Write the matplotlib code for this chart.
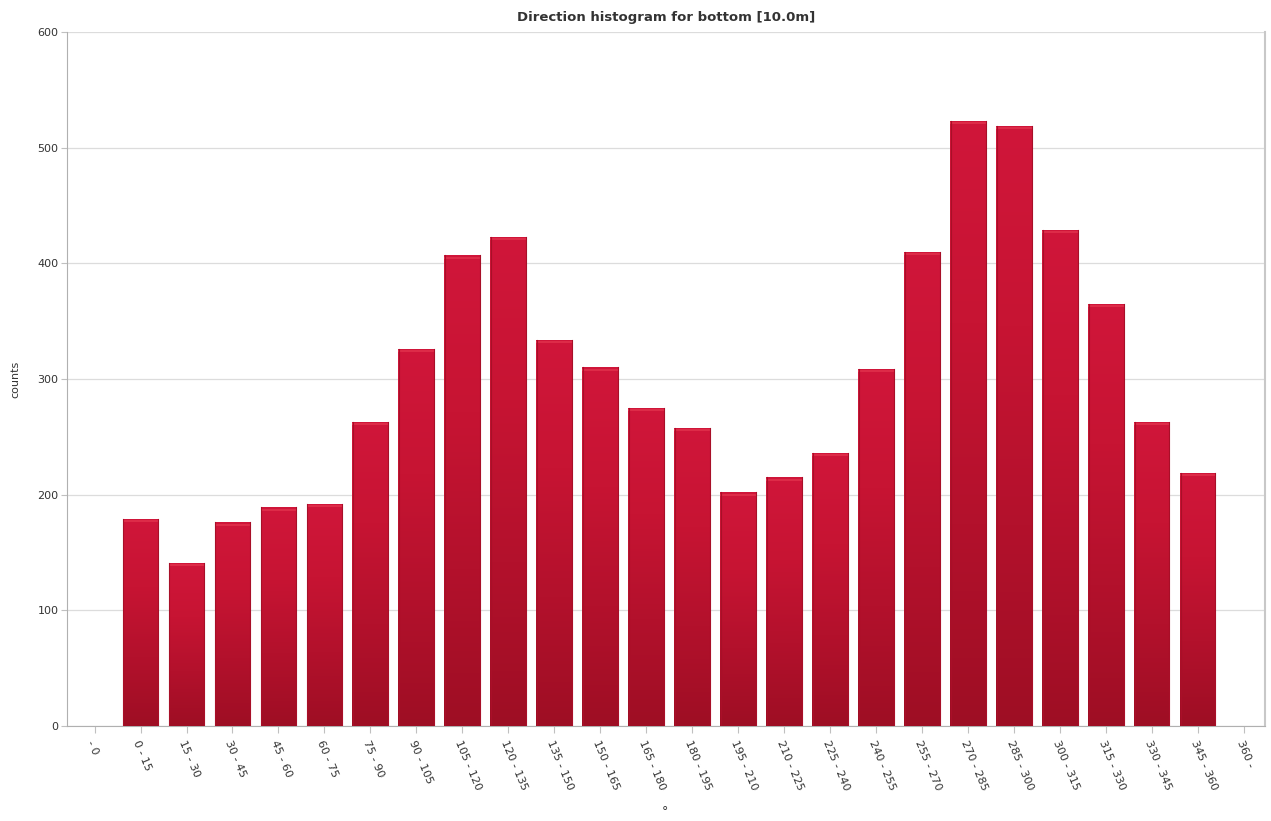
import numpy as np
import matplotlib
matplotlib.use("Agg")
import matplotlib.pyplot as plt
from matplotlib.colors import LinearSegmentedColormap

categories = ["- 0", "0 - 15", "15 - 30", "30 - 45", "45 - 60", "60 - 75", "75 - 90",
              "90 - 105", "105 - 120", "120 - 135", "135 - 150", "150 - 165",
              "165 - 180", "180 - 195", "195 - 210", "210 - 225", "225 - 240",
              "240 - 255", "255 - 270", "270 - 285", "285 - 300", "300 - 315",
              "315 - 330", "330 - 345", "345 - 360", "360 -"]
counts = [0, 179, 141, 176, 189, 192, 263, 326, 407, 423, 334, 310, 275, 258,
          202, 215, 236, 309, 410, 523, 519, 429, 365, 263, 219, 0]
yticks = [0, 100, 200, 300, 400, 500, 600]

fig = plt.figure(figsize=(12.71, 8.21), dpi=100)
ax = fig.add_axes([0.0527, 0.1157, 0.9423, 0.8453])

x = np.arange(len(categories))
bars = ax.bar(x, counts, width=0.78, color="#b81230", edgecolor="none", zorder=2)

# vertical gradient within each bar
cmap = LinearSegmentedColormap.from_list("g", ["#9e0e24", "#b3112c", "#c71433", "#d0163a"])
grad = np.linspace(0, 1, 256).reshape(-1, 1)
for b, v in zip(bars, counts):
    if v <= 0:
        continue
    x0 = b.get_x()
    w = b.get_width()
    im = ax.imshow(grad, extent=(x0, x0 + w, 0, v), origin="lower", aspect="auto",
                   cmap=cmap, zorder=3)
    im.set_clip_path(b)
    ax.plot([x0, x0 + w], [v - 2, v - 2], color="#e0304c", lw=1.2, zorder=4,
            solid_capstyle="butt")
    ax.plot([x0 + 0.01, x0 + 0.01], [0, v], color="#a80f28", lw=0.8, zorder=4)
    ax.plot([x0 + w - 0.01, x0 + w - 0.01], [0, v], color="#a80f28", lw=0.8, zorder=4)

ax.set_xlim(-0.6, 25.45)
ax.set_ylim(0, 600)
ax.set_yticks(yticks)
ax.set_yticklabels([str(t) for t in yticks], fontsize=8, color="#333333")
ax.set_xticks(x)
ax.set_xticklabels(categories, rotation=-67, ha="left", va="top",
                   rotation_mode="anchor", fontsize=8, color="#333333")
ax.tick_params(axis="x", length=5, color="#c0c0c0", pad=4)
ax.tick_params(axis="y", length=4, color="#c0c0c0", pad=2)

ax.grid(axis="y", color="#dcdcdc", lw=0.9, zorder=0)
ax.set_axisbelow(True)
ax.spines["top"].set_visible(False)
ax.spines["left"].set_color("#b0b0b0")
ax.spines["bottom"].set_color("#b0b0b0")
ax.spines["right"].set_color("#c8c8c8")
ax.spines["right"].set_linewidth(1.5)

ax.set_title("Direction histogram for bottom [10.0m]", fontsize=9.5,
             fontweight="bold", color="#333333", pad=8)
ax.set_ylabel("counts", fontsize=8, color="#333333", labelpad=12)
fig.text(665 / 1271, 1 - 812 / 821, "°", fontsize=9, color="#333333",
         ha="center", va="center")

fig.savefig("out.png", dpi=100)
